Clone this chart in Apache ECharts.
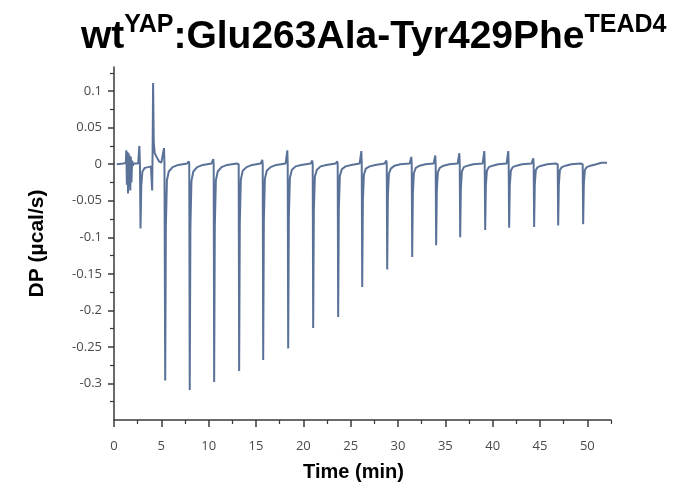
<!DOCTYPE html>
<html><head><meta charset="utf-8">
<script src="https://cdn.jsdelivr.net/npm/echarts@6/dist/echarts.min.js"></script>
<style>html,body{margin:0;padding:0;background:#fff}#c{width:680px;height:495px}</style>
</head><body><div id="c"></div>
<script>
// Pre-injection region (time min, DP µcal/s)
var preTrace = [
  [0.30,0.000],[1.00,0.001],[1.25,0.002],[1.30,0.019],[1.36,-0.028],[1.42,0.017],[1.48,-0.040],
  [1.54,0.015],[1.60,-0.030],[1.66,0.012],[1.72,-0.036],[1.78,0.010],[1.84,-0.025],[1.92,0.005],
  [2.00,-0.002],[2.10,0.001],[2.55,0.001],[2.68,0.025],[2.74,0.000],[2.80,-0.088],[2.88,-0.030],
  [3.00,-0.010],[3.25,-0.005],[3.60,-0.004],[3.90,-0.003],[3.98,-0.002],[4.03,-0.036],[4.08,0.020],
  [4.13,0.111],[4.20,0.030],[4.30,0.015],[4.50,0.010],[4.75,0.004],[5.00,0.002]
];
// Injection peaks (time min, DP µcal/s)
var injTrace = [
  [5.20,0.002],[5.28,0.022],[5.33,0.001],[5.36,0.000],[5.41,-0.296],[5.48,-0.085],[5.59,-0.022],[5.79,-0.010],[6.19,-0.004],[6.79,-0.001],
  [7.73,0.001],[7.91,0.004],[7.95,0.000],[8.00,-0.309],[8.07,-0.088],[8.18,-0.023],[8.38,-0.010],[8.78,-0.004],[9.38,-0.001],
  [10.31,0.001],[10.49,0.007],[10.53,0.000],[10.58,-0.298],[10.65,-0.085],[10.76,-0.022],[10.96,-0.010],[11.36,-0.004],[11.96,-0.001],
  [12.95,0.001],[13.13,0.003],[13.17,0.000],[13.22,-0.283],[13.29,-0.080],[13.40,-0.021],[13.60,-0.009],[14.00,-0.004],[14.60,-0.001],
  [15.49,0.001],[15.67,0.006],[15.71,0.000],[15.76,-0.268],[15.83,-0.076],[15.94,-0.020],[16.14,-0.009],[16.54,-0.004],[17.14,-0.001],
  [18.13,0.001],[18.31,0.019],[18.35,0.000],[18.40,-0.252],[18.47,-0.072],[18.58,-0.019],[18.78,-0.008],[19.18,-0.003],[19.78,-0.001],
  [20.77,0.001],[20.95,0.005],[20.99,0.000],[21.04,-0.224],[21.11,-0.064],[21.22,-0.017],[21.42,-0.008],[21.82,-0.003],[22.42,-0.001],
  [23.41,0.001],[23.59,0.004],[23.63,0.000],[23.68,-0.209],[23.75,-0.060],[23.86,-0.016],[24.06,-0.007],[24.46,-0.003],[25.06,-0.001],
  [25.95,0.001],[26.13,0.018],[26.17,0.000],[26.22,-0.168],[26.29,-0.050],[26.40,-0.014],[26.60,-0.006],[27.00,-0.003],[27.60,-0.001],
  [28.59,0.001],[28.77,0.005],[28.81,0.000],[28.86,-0.144],[28.93,-0.044],[29.04,-0.013],[29.24,-0.006],[29.64,-0.002],[30.24,0.000],
  [31.23,0.001],[31.41,0.010],[31.45,0.000],[31.50,-0.127],[31.57,-0.040],[31.68,-0.012],[31.88,-0.005],[32.28,-0.002],[32.88,0.000],
  [33.76,0.001],[33.94,0.012],[33.98,0.000],[34.03,-0.111],[34.10,-0.036],[34.21,-0.011],[34.41,-0.005],[34.81,-0.002],[35.41,0.000],
  [36.30,0.001],[36.48,0.015],[36.52,0.000],[36.57,-0.100],[36.64,-0.033],[36.75,-0.010],[36.95,-0.004],[37.35,-0.002],[37.95,0.000],
  [38.94,0.001],[39.12,0.018],[39.16,0.000],[39.21,-0.090],[39.28,-0.030],[39.39,-0.009],[39.59,-0.004],[39.99,-0.002],[40.59,0.000],
  [41.47,0.001],[41.65,0.018],[41.69,0.000],[41.74,-0.087],[41.81,-0.029],[41.92,-0.009],[42.12,-0.004],[42.52,-0.002],[43.12,0.000],
  [44.11,0.001],[44.29,0.008],[44.33,0.000],[44.38,-0.086],[44.45,-0.028],[44.56,-0.008],[44.76,-0.004],[45.16,-0.002],[45.76,0.000],
  [46.65,0.001],[46.83,0.003],[46.87,0.000],[46.92,-0.084],[46.99,-0.028],[47.10,-0.008],[47.30,-0.004],[47.70,-0.002],[48.30,0.000],
  [49.29,0.001],[49.47,0.003],[49.51,0.000],[49.56,-0.082],[49.63,-0.027],[49.74,-0.008],[49.94,-0.004],[50.34,-0.002],[50.94,0.000],
  [51.50,0.002],[52.08,0.002]
];
var xMajor = [0,5,10,15,20,25,30,35,40,45,50];
var xMinor = [2.5,7.5,12.5,17.5,22.5,27.5,32.5,37.5,42.5,47.5,52.5];
var yMajor = [-0.3,-0.25,-0.2,-0.15,-0.1,-0.05,0,0.05,0.1];
var yMinor = [-0.325,-0.275,-0.225,-0.175,-0.125,-0.075,-0.025,0.025,0.075,0.125];

var chart = echarts.init(document.getElementById('c'), null, {renderer:'canvas'});
var axisCol = '#3a3a3a';
var labelStyle = {color:'#4a4a4a', fontSize:13, fontFamily:'Open Sans'};
var xRange = {min:0, max:52.5}, yRange = {min:-0.35, max:0.133};
chart.setOption({
  animation:false,
  title:{
    text:'{a|wt}{s|YAP}{a|:Glu263Ala-Tyr429Phe}{s|TEAD4}',
    left:76, top:8,
    textStyle:{rich:{
      a:{fontFamily:'Liberation Sans', fontWeight:'bold', fontSize:39, color:'#000', lineHeight:44, verticalAlign:'bottom'},
      s:{fontFamily:'Liberation Sans', fontWeight:'bold', fontSize:25, color:'#000', lineHeight:44, verticalAlign:'top', padding:[0,0,14,0]}
    }}
  },
  grid:{left:114, right:69, top:67, bottom:75},
  xAxis:[{
    type:'value', min:xRange.min, max:xRange.max, position:'bottom',
    name:'Time (min)', nameLocation:'middle', nameGap:42,
    nameTextStyle:{fontFamily:'Liberation Sans', fontWeight:'bold', fontSize:20, color:'#000', padding:[0,18,0,0]},
    axisLine:{show:true, onZero:false, lineStyle:{color:axisCol, width:1.5}},
    axisTick:{show:true, length:7, customValues:xMajor, lineStyle:{color:axisCol, width:1.5}},
    axisLabel:{customValues:xMajor, margin:20, ...labelStyle},
    splitLine:{show:false}
  },{
    type:'value', min:xRange.min, max:xRange.max, position:'bottom',
    axisLine:{show:false, onZero:false},
    axisTick:{show:true, length:4, customValues:xMinor, lineStyle:{color:axisCol, width:1.2}},
    axisLabel:{show:false}, splitLine:{show:false}
  }],
  yAxis:[{
    type:'value', min:yRange.min, max:yRange.max, position:'left',
    name:'DP (µcal/s)', nameLocation:'middle', nameGap:66,
    nameTextStyle:{fontFamily:'Liberation Sans', fontWeight:'bold', fontSize:21, color:'#000'},
    axisLine:{show:true, onZero:false, lineStyle:{color:axisCol, width:1.5}},
    axisTick:{show:true, length:6, customValues:yMajor, lineStyle:{color:axisCol, width:1.5}},
    axisLabel:{customValues:yMajor, margin:12, formatter:function(v){return String(+v.toFixed(3));}, ...labelStyle},
    splitLine:{show:false}
  },{
    type:'value', min:yRange.min, max:yRange.max, position:'left',
    axisLine:{show:false, onZero:false},
    axisTick:{show:true, length:4, customValues:yMinor, lineStyle:{color:axisCol, width:1.2}},
    axisLabel:{show:false}, splitLine:{show:false}
  }],
  series:[{
    type:'line', xAxisIndex:0, yAxisIndex:0, showSymbol:false, symbol:'none',
    data: preTrace.concat(injTrace),
    lineStyle:{color:'#5a7298', width:2}
  }]
});
</script></body></html>
